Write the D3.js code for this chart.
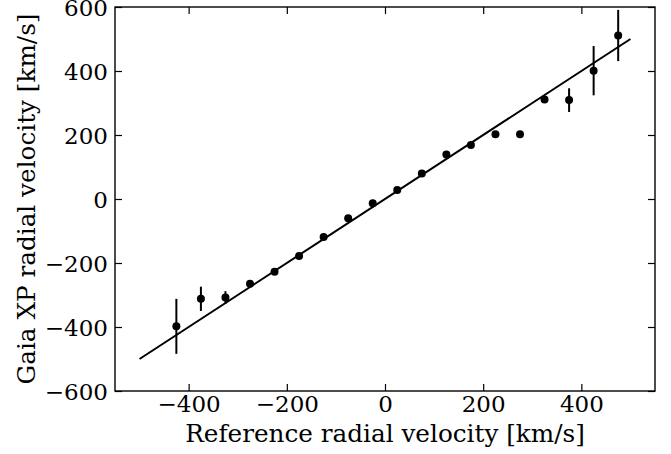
<!DOCTYPE html>
<html>
<head>
<meta charset="utf-8">
<script src="https://cdn.jsdelivr.net/npm/d3@7"></script>
<style>
  html, body { margin: 0; padding: 0; background: #fff; }
  svg text { font-family: "DejaVu Serif", serif; fill: #000; }
</style>
</head>
<body>
<svg id="chart" width="671" height="454"></svg>
<script>
// Data
const refVel   = [-425, -375, -325, -275, -225, -175, -125, -75, -25, 25, 75, 125, 175, 225, 275, 325, 375, 425, 475];
const xpVel    = [-398, -312, -308, -265, -227, -178, -119, -60, -13, 28, 80, 139, 169, 202, 202, 311, 309, 401, 511];
const xpErr    = [86, 38, 20, 6, 6, 5, 5, 5, 5, 5, 5, 6, 6, 6, 6, 9, 37, 77, 80];
const lineX    = [-500, 500];
const lineY    = [-500, 500];
const xTicks   = [-400, -200, 0, 200, 400];
const yTicks   = [-600, -400, -200, 0, 200, 400, 600];
const xLabel   = "Reference radial velocity [km/s]";
const yLabel   = "Gaia XP radial velocity [km/s]";

const svg = d3.select("#chart");
const L = 115, R = 655, T = 7, B = 391;
const x = d3.scaleLinear().domain([-550, 550]).range([L, R]);
const y = d3.scaleLinear().domain([-600, 600]).range([B, T]);
const fmt = d => d < 0 ? "\u2212" + Math.abs(d) : String(d);
const fsTick = 23, fsLab = 24.7;

// axes (inward ticks, all four sides)
const gx = svg.append("g").attr("transform", `translate(0,${B})`)
  .call(d3.axisBottom(x).tickValues(xTicks).tickSize(-7).tickPadding(5).tickFormat(fmt));
const gxt = svg.append("g").attr("transform", `translate(0,${T})`)
  .call(d3.axisTop(x).tickValues(xTicks).tickSize(-7).tickFormat(""));
const gy = svg.append("g").attr("transform", `translate(${L},0)`)
  .call(d3.axisLeft(y).tickValues(yTicks).tickSize(-7).tickPadding(7).tickFormat(fmt));
const gyr = svg.append("g").attr("transform", `translate(${R},0)`)
  .call(d3.axisRight(y).tickValues(yTicks).tickSize(-7).tickFormat(""));
[gx, gxt, gy, gyr].forEach(g => {
  g.select(".domain").remove();
  g.selectAll(".tick line").attr("stroke", "#000").attr("stroke-width", 1.2);
  g.selectAll("text").style("font-size", fsTick + "px").style("font-family", "DejaVu Serif");
});
gy.selectAll("text").attr("dy", "0.36em");
gx.selectAll("text").attr("dy", "0.71em");

// frame
svg.append("rect").attr("x", L).attr("y", T).attr("width", R - L).attr("height", B - T)
  .attr("fill", "none").attr("stroke", "#000").attr("stroke-width", 1.4);

// fit line
svg.append("line")
  .attr("x1", x(lineX[0])).attr("y1", y(lineY[0]))
  .attr("x2", x(lineX[1])).attr("y2", y(lineY[1]))
  .attr("stroke", "#000").attr("stroke-width", 2);

// error bars
const idx = d3.range(refVel.length);
svg.append("g").selectAll("line").data(idx).join("line")
  .attr("x1", i => x(refVel[i])).attr("x2", i => x(refVel[i]))
  .attr("y1", i => y(xpVel[i] - xpErr[i])).attr("y2", i => y(xpVel[i] + xpErr[i]))
  .attr("stroke", "#000").attr("stroke-width", 2);

// points
svg.append("g").selectAll("circle").data(idx).join("circle")
  .attr("cx", i => x(refVel[i])).attr("cy", i => y(xpVel[i])).attr("r", 4)
  .attr("fill", "#000");

// labels
svg.append("text").attr("x", (L + R) / 2).attr("y", 442).attr("text-anchor", "middle")
  .style("font-size", fsLab + "px").text(xLabel);
svg.append("text").attr("transform", `translate(35,${(T + B) / 2}) rotate(-90)`)
  .attr("text-anchor", "middle").style("font-size", fsLab + "px").text(yLabel);
</script>
</body>
</html>
